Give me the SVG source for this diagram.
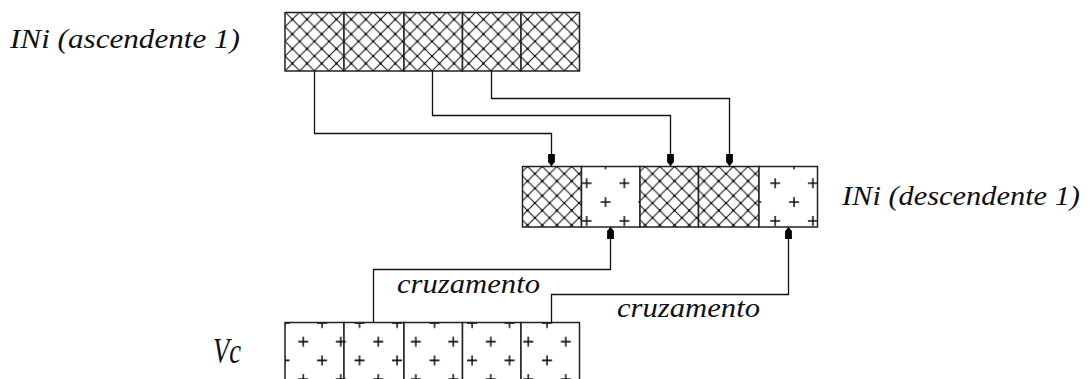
<svg xmlns="http://www.w3.org/2000/svg" width="1091" height="379" viewBox="0 0 1091 379">
<style>
.cell{stroke:#222;stroke-width:1.5}
.hatch{fill:url(#hatch)}
.conn{fill:none;stroke:#111;stroke-width:1.3}
</style>
<defs>
<pattern id="hatch" patternUnits="userSpaceOnUse" x="285" y="12" width="14.7" height="14.7">
<rect width="14.7" height="14.7" fill="#fff"/>
<path d="M0,0 L14.7,14.7 M14.7,0 L0,14.7" stroke="#222" stroke-width="1.2"/>
<rect x="6.35" y="6.35" width="2" height="2" fill="#000"/>
<rect x="-1" y="-1" width="2" height="2" fill="#000"/>
<rect x="13.7" y="-1" width="2" height="2" fill="#000"/>
<rect x="-1" y="13.7" width="2" height="2" fill="#000"/>
<rect x="13.7" y="13.7" width="2" height="2" fill="#000"/>
</pattern>
<g id="plusShape">
<path d="M-5,0 H5 M0,-5 V5" stroke="#111" stroke-width="1.5"/>
</g>
<pattern id="plusMid" patternUnits="userSpaceOnUse" x="577.7" y="174.3" width="37.7" height="37.7">
<rect width="37.7" height="37.7" fill="#fff"/>
<use href="#plusShape" x="9" y="9"/>
<use href="#plusShape" x="27.85" y="27.85"/>
</pattern>
<pattern id="plusBot" patternUnits="userSpaceOnUse" x="294.3" y="332.7" width="37.5" height="37.5">
<rect width="37.5" height="37.5" fill="#fff"/>
<use href="#plusShape" x="9" y="9"/>
<use href="#plusShape" x="27.75" y="27.75"/>
</pattern>
<marker id="arr" markerUnits="userSpaceOnUse" markerWidth="12" markerHeight="10" refX="12" refY="5" orient="auto">
<path d="M0,1.6 L8,1.6 L12,5 L8,8.4 L0,8.4 Z" fill="#000"/>
</marker>
</defs>

<g id="connectors">
<path class="conn" d="M314.5,71 V133.5 H551.5 V166" marker-end="url(#arr)"/>
<path class="conn" d="M432.5,71 V115.5 H670.5 V166" marker-end="url(#arr)"/>
<path class="conn" d="M491.5,71 V98.5 H729.5 V166" marker-end="url(#arr)"/>
<path class="conn" d="M373.5,322 V269.5 H610.5 V227" marker-end="url(#arr)"/>
<path class="conn" d="M551.5,322 V294.5 H788.5 V227" marker-end="url(#arr)"/>
</g>

<g id="ascendente">
<rect class="cell hatch" x="285" y="12.5" width="59" height="58.5"/>
<rect class="cell hatch" x="344" y="12.5" width="60" height="58.5"/>
<rect class="cell hatch" x="404" y="12.5" width="58.5" height="58.5"/>
<rect class="cell hatch" x="462.5" y="12.5" width="58.5" height="58.5"/>
<rect class="cell hatch" x="521" y="12.5" width="58.5" height="58.5"/>
<text font-family="Liberation Serif, serif" font-style="italic" fill="#111" x="10" y="48" font-size="28" textLength="230" lengthAdjust="spacingAndGlyphs">INi (ascendente 1)</text>
</g>

<g id="descendente">
<rect class="cell hatch" x="522.5" y="166.5" width="59" height="60.5"/>
<rect class="cell" fill="url(#plusMid)" x="581.5" y="166.5" width="58.5" height="60.5"/>
<rect class="cell hatch" x="640" y="166.5" width="58.5" height="60.5"/>
<rect class="cell hatch" x="698.5" y="166.5" width="60.5" height="60.5"/>
<rect class="cell" fill="url(#plusMid)" x="759" y="166.5" width="58.5" height="60.5"/>
<text font-family="Liberation Serif, serif" font-style="italic" fill="#111" x="842" y="205" font-size="28" textLength="238" lengthAdjust="spacingAndGlyphs">INi (descendente 1)</text>
</g>

<g id="vc">
<rect class="cell" fill="url(#plusBot)" x="285" y="322.5" width="59" height="70"/>
<rect class="cell" fill="url(#plusBot)" x="344" y="322.5" width="60" height="70"/>
<rect class="cell" fill="url(#plusBot)" x="404" y="322.5" width="58.5" height="70"/>
<rect class="cell" fill="url(#plusBot)" x="462.5" y="322.5" width="58.5" height="70"/>
<rect class="cell" fill="url(#plusBot)" x="521" y="322.5" width="58.5" height="70"/>
<text font-family="Liberation Serif, serif" font-style="italic" fill="#111" x="213" y="363" font-size="36" textLength="28" lengthAdjust="spacingAndGlyphs">Vc</text>
</g>

<g id="labels">
<text font-family="Liberation Serif, serif" font-style="italic" fill="#111" x="397" y="293" font-size="28" textLength="143" lengthAdjust="spacingAndGlyphs">cruzamento</text>
<text font-family="Liberation Serif, serif" font-style="italic" fill="#111" x="617" y="317" font-size="28" textLength="143" lengthAdjust="spacingAndGlyphs">cruzamento</text>
</g>
</svg>
